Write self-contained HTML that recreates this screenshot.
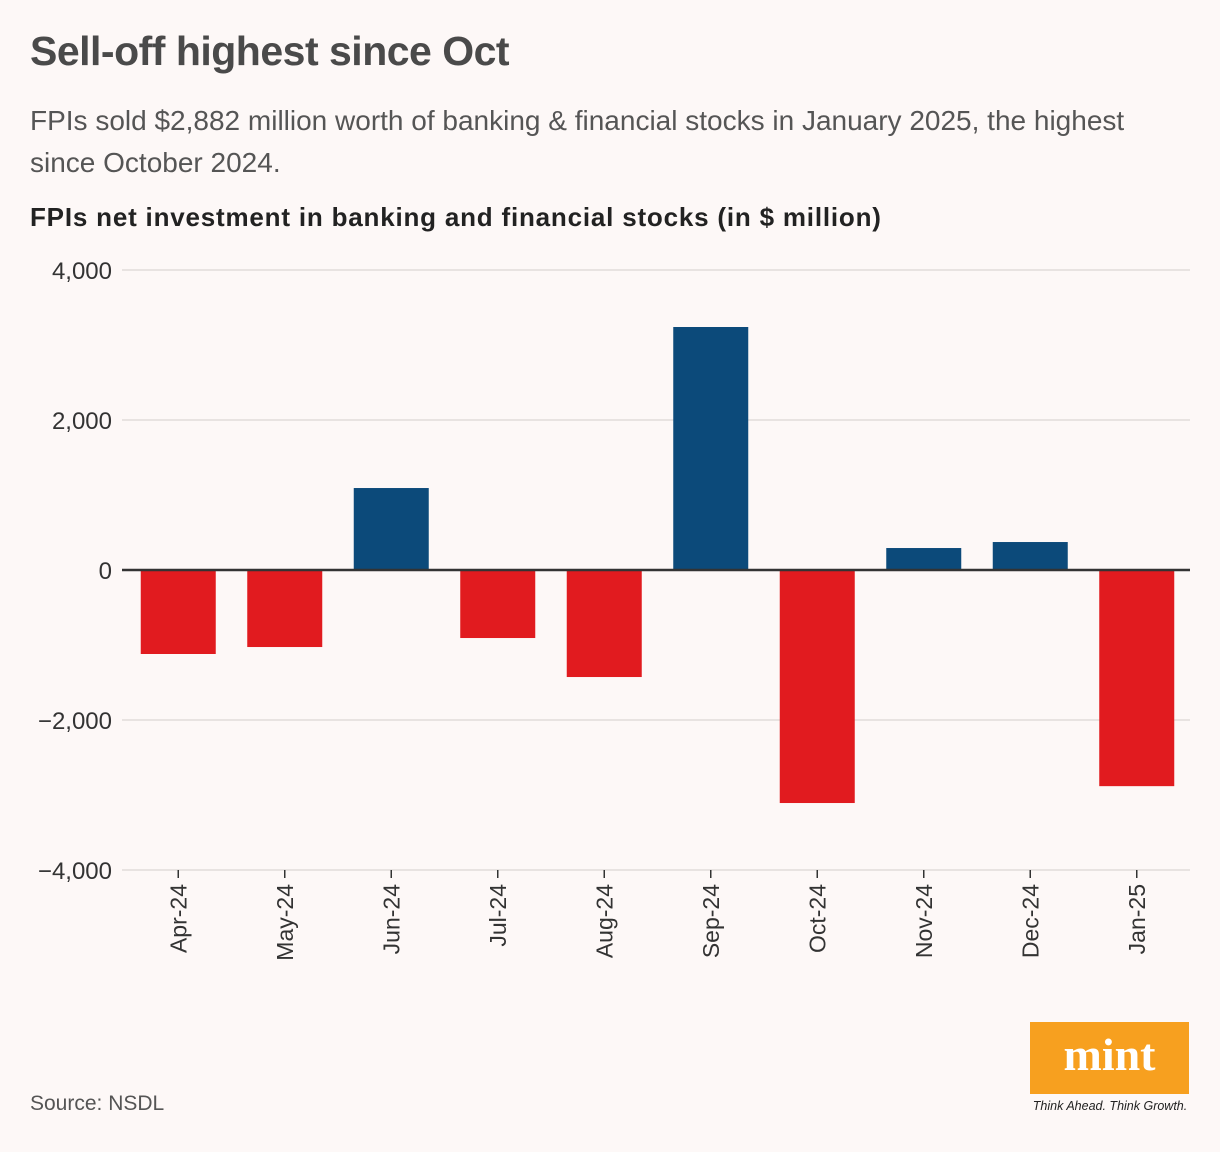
<!DOCTYPE html>
<html><head><meta charset="utf-8"><style>
body{margin:0;background:#fdf8f7;font-family:"Liberation Sans",sans-serif;}
#wrap{position:relative;width:1220px;height:1152px;overflow:hidden;}
.t{position:absolute;white-space:nowrap;}
</style></head><body>
<div id="wrap">
<div class="t" style="left:30px;top:28px;font-size:41px;font-weight:bold;color:#4a4a4a;letter-spacing:-0.5px">Sell-off highest since Oct</div>
<div class="t" style="left:30px;top:100px;font-size:28px;line-height:42px;color:#555;white-space:normal;width:1130px">FPIs sold $2,882 million worth of banking &amp; financial stocks in January 2025, the highest since October 2024.</div>
<div class="t" style="left:30px;top:202px;font-size:26px;font-weight:bold;color:#222;letter-spacing:0.8px">FPIs net investment in banking and financial stocks (in $ million)</div>
<svg id="chart" width="1220" height="1000" style="position:absolute;left:0;top:0"></svg>
<div class="t" style="left:30px;top:1092px;font-size:21px;color:#555">Source: NSDL</div>
<div class="t" style="left:1030px;top:1022px;width:159px;height:72px;background:#f7a01f;color:#fff;font-family:'Liberation Serif',serif;font-weight:bold;font-size:46px;text-align:center;line-height:66px">mint</div>
<div class="t" style="left:1030px;top:1099px;font-size:12.5px;font-style:italic;color:#222;width:160px;text-align:center">Think Ahead. Think Growth.</div>
</div>
<script>
const categories=["Apr-24","May-24","Jun-24","Jul-24","Aug-24","Sep-24","Oct-24","Nov-24","Dec-24","Jan-25"];
const values=[-1120,-1027,1093,-907,-1427,3240,-3107,293,373,-2882];
const ticks=[4000,2000,0,-2000,-4000];
const tickLabels=["4,000","2,000","0","\u22122,000","\u22124,000"];
const svg=document.getElementById('chart');const NS="http://www.w3.org/2000/svg";
const L=125,R=1190,y0=570,k=300/4000;
const y=v=>y0-v*k;
const bw=(R-L)/categories.length;
const x=i=>L+i*bw+bw/2;
function mk(t,a){const e=document.createElementNS(NS,t);for(const n in a)e.setAttribute(n,a[n]);svg.appendChild(e);return e;}
ticks.forEach((t,i)=>{
 if(t!==0){const g=mk('line',{x1:L-3,x2:R,y1:y(t),y2:y(t),stroke:'#e2dcda','stroke-width':1.5});
 
 }
 const tx=mk('text',{x:112,y:y(t)+9,'text-anchor':'end','font-size':24,fill:'#333','font-family':'Liberation Sans, sans-serif'});
 tx.textContent=tickLabels[i];
 
 
});
categories.forEach((c,i)=>{
 const v=values[i];
 const r=mk('rect',{x:x(i)-37.5,width:75,y:Math.min(y(v),y0),height:Math.abs(y(v)-y0),fill:v>=0?'#0c4a7a':'#e11b1f'});
 
 
 const tk=mk('line',{x1:x(i),x2:x(i),y1:870,y2:878,stroke:'#333','stroke-width':1.5});
 
 
 const tx=mk('text',{transform:`translate(${x(i)+8},884) rotate(-90)`,'text-anchor':'end','font-size':23,fill:'#333','font-family':'Liberation Sans, sans-serif'});
 tx.textContent=c;
 
 
});
const z=mk('line',{x1:L-3,x2:R,y1:y0,y2:y0,stroke:'#333','stroke-width':2.5});


</script>
</body></html>
